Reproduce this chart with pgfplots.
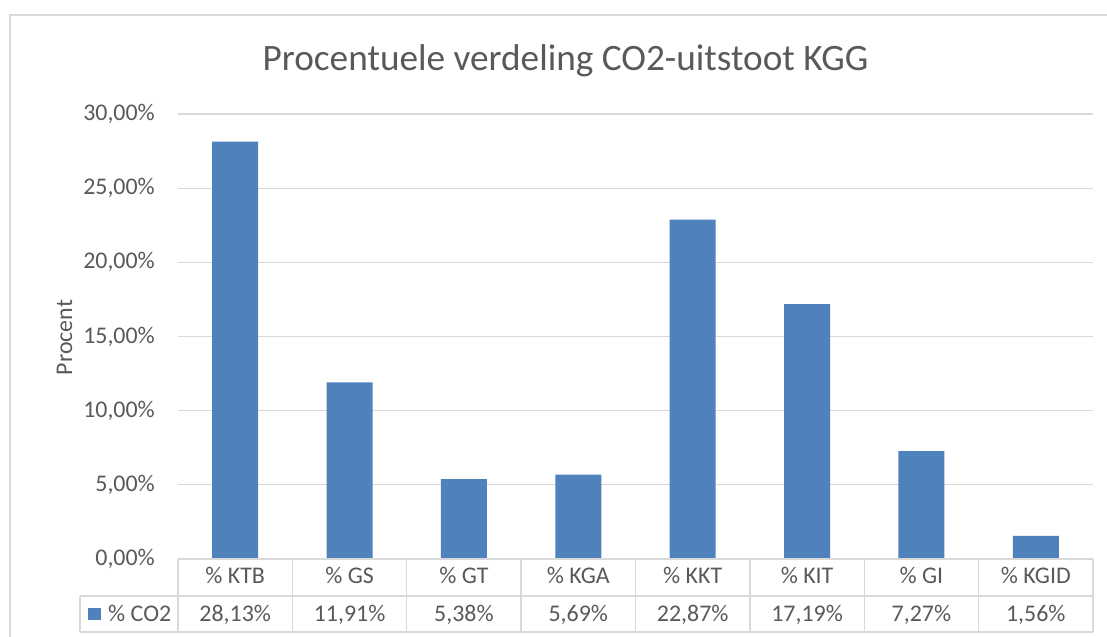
\documentclass[border=0pt]{standalone}
\usepackage{pgfplots}
\pgfplotsset{compat=1.18}
\usepackage{fontspec}
\setmainfont{Carlito}
\definecolor{barblue}{HTML}{4F81BD}
\definecolor{gridgray}{HTML}{D9D9D9}
\definecolor{txt}{HTML}{595959}
\newcommand{\lbl}{\fontsize{24}{28}\selectfont}
\begin{document}
\begin{tikzpicture}[x=1bp,y=1bp]
\useasboundingbox (0,0) rectangle (1107,637);
\begin{axis}[
  at={(178bp,78bp)}, anchor=south west,
  scale only axis, width=915bp, height=445bp,
  xmin=-0.5, xmax=7.5, ymin=0, ymax=30,
  ybar, bar width=46bp,
  axis line style={draw=none},
  major tick length=0pt,
  xtick=\empty,
  ytick={0,5,10,15,20,25,30},
  ymajorgrids, grid style={draw=gridgray, line width=1.3bp},
  scaled y ticks=false,
  yticklabel={\pgfmathprintnumber[fixed,fixed zerofill,precision=2,use comma,assume math mode=true]{\tick}\%},
  yticklabel style={font=\lbl, text=txt, anchor=east, inner sep=0pt, xshift=-23bp},
  clip=false,
]
\addplot[fill=barblue, draw=none] coordinates {(0,28.13) (1,11.91) (2,5.38) (3,5.69) (4,22.87) (5,17.19) (6,7.27) (7,1.56)};
\end{axis}
% outer chart border
\draw[gridgray, line width=1.3bp] (10,-10) -- (10,622) -- (1120,622);
% data table
\begin{scope}[gridgray, line width=1.3bp]
\draw (178,78) -- (1093,78);
\draw (80,41) -- (1093,41);
\draw (80,5) -- (1093,5);
\draw (80,5) -- (80,41);
\foreach \k in {0,...,8} {\draw ({178+\k*114.375},5) -- ({178+\k*114.375},78);}
\end{scope}
\foreach \i/\c/\v in {0/KTB/{28,13},1/GS/{11,91},2/GT/{5,38},3/KGA/{5,69},4/KKT/{22,87},5/KIT/{17,19},6/GI/{7,27},7/KGID/{1,56}} {
  \node[anchor=base, text=txt, font=\lbl, inner sep=0pt] at ({178+(\i+0.5)*114.375},53.7) {\% \c};
  \node[anchor=base, text=txt, font=\lbl, inner sep=0pt] at ({178+(\i+0.5)*114.375},15.3) {\v\%};
}
\fill[barblue] (88,16.7) rectangle (101,29.3);
\node[anchor=base west, text=txt, font=\lbl, inner sep=0pt] at (108,15.3) {\% CO2};
% axis label
\node[rotate=90, anchor=base, text=txt, font=\lbl, inner sep=0pt] at (72,299.5) {Procent};
% title
\node[anchor=base, text=txt, font=\fontsize{37.4}{44}\selectfont, inner sep=0pt] at (565.5,566) {Procentuele verdeling CO2-uitstoot KGG};
\end{tikzpicture}
\end{document}
